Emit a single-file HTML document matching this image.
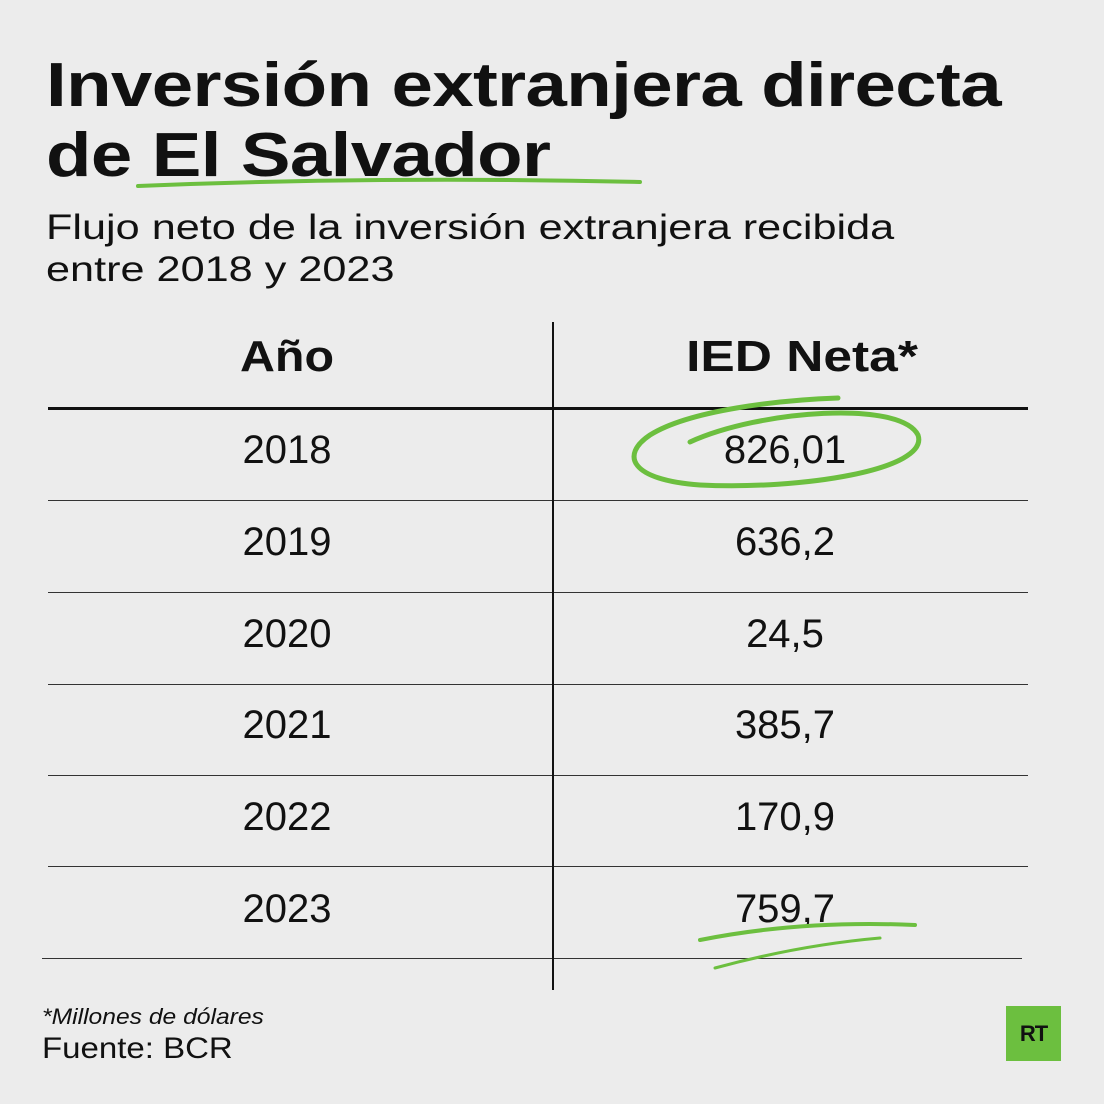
<!DOCTYPE html>
<html><head><meta charset="utf-8"><style>
body{margin:0;width:1104px;height:1104px;background:#ececec;font-family:"Liberation Sans",sans-serif;color:#111;position:relative;overflow:hidden}
.a{position:absolute;white-space:nowrap;transform-origin:0 0}
.t{font-weight:bold;font-size:62px;letter-spacing:-0.5px;left:46px;transform:scaleX(1.2)}
.s{font-size:35px;left:46px;transform:scaleX(1.235)}
.c{position:absolute;width:300px;text-align:center;font-size:40px}
.h{font-weight:bold;font-size:44px}
.hl{position:absolute;height:1px;background:#333}
</style></head><body>
<div class="a t" style="top:50px">Inversión extranjera directa</div>
<div class="a t" style="top:120px">de El Salvador</div>
<div class="a s" style="top:208px">Flujo neto de la inversión extranjera recibida</div>
<div class="a s" style="top:250px">entre 2018 y 2023</div>

<div class="hl" style="left:48px;top:407px;width:980px;height:3px;background:#111"></div>
<div class="hl" style="left:48px;top:500px;width:980px"></div>
<div class="hl" style="left:48px;top:592px;width:980px"></div>
<div class="hl" style="left:48px;top:684px;width:980px"></div>
<div class="hl" style="left:48px;top:775px;width:980px"></div>
<div class="hl" style="left:48px;top:866px;width:980px"></div>
<div class="hl" style="left:42px;top:958px;width:980px"></div>
<div style="position:absolute;left:552px;top:322px;width:2px;height:668px;background:#111"></div>

<div class="c h" style="left:137px;top:332px;transform:scaleX(1.1)">Año</div>
<div class="c h" style="left:652px;top:332px;transform:scaleX(1.17)">IED Neta*</div>

<div class="c" style="left:137px;top:428px">2018</div><div class="c" style="left:635px;top:428px">826,01</div>
<div class="c" style="left:137px;top:520px">2019</div><div class="c" style="left:635px;top:520px">636,2</div>
<div class="c" style="left:137px;top:612px">2020</div><div class="c" style="left:635px;top:612px">24,5</div>
<div class="c" style="left:137px;top:703px">2021</div><div class="c" style="left:635px;top:703px">385,7</div>
<div class="c" style="left:137px;top:795px">2022</div><div class="c" style="left:635px;top:795px">170,9</div>
<div class="c" style="left:137px;top:887px">2023</div><div class="c" style="left:635px;top:887px">759,7</div>

<svg class="a" style="left:0;top:0" width="1104" height="1104">
<g fill="none" stroke="#6cbf3f" stroke-linecap="round">
<path d="M138 186 Q380 176 640 182" stroke-width="4"/>
<path d="M690 442 C760 410 900 400 918 435 C930 470 800 490 700 485 C630 480 620 455 650 435 C690 410 780 400 838 398" stroke-width="5"/>
<path d="M700 940 Q800 920 915 925" stroke-width="4"/>
<path d="M715 968 Q800 945 880 938" stroke-width="3"/>
</g></svg>

<div class="a" style="left:42px;top:1004px;font-size:22px;font-style:italic;transform:scaleX(1.12)">*Millones de dólares</div>
<div class="a" style="left:42px;top:1032px;font-size:30px;transform:scaleX(1.1)">Fuente: BCR</div>
<div class="a" style="left:1006px;top:1006px;width:55px;height:55px;background:#6cbf3f;font-weight:bold;font-size:22px;line-height:55px;text-align:center;color:#111;letter-spacing:-1px">RT</div>
</body></html>
